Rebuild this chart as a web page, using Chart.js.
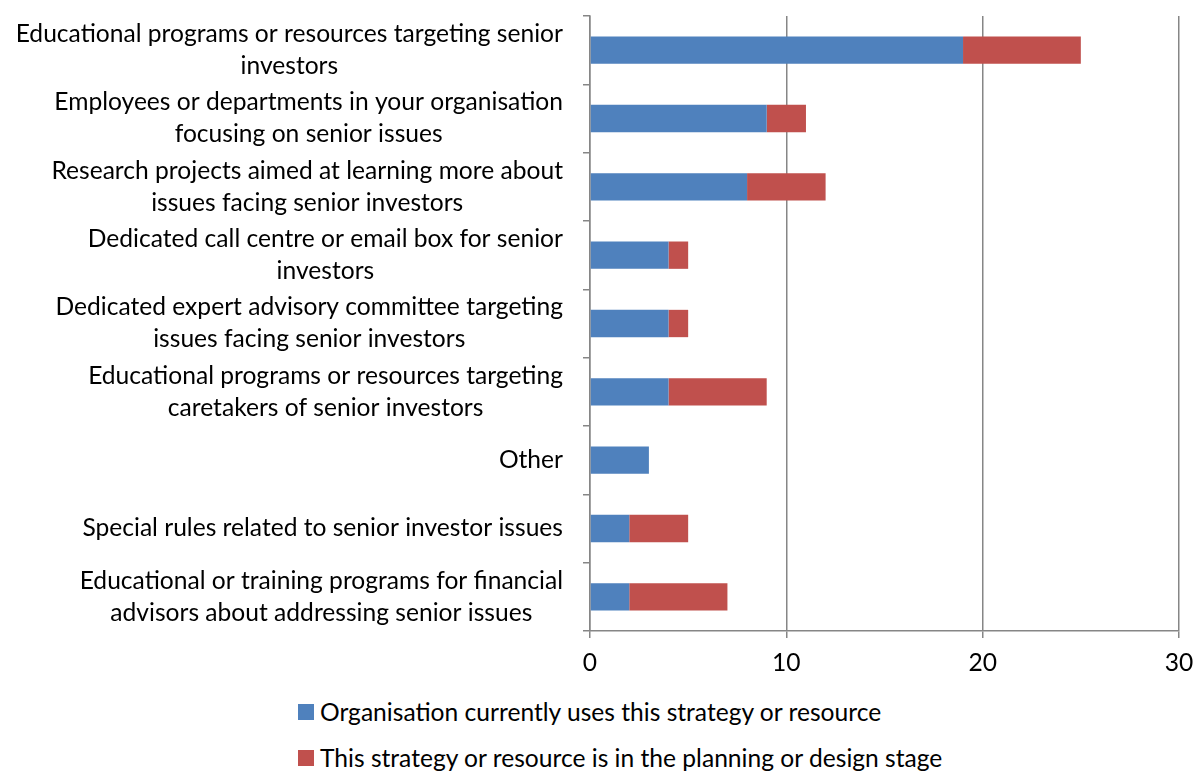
<!DOCTYPE html>
<html>
<head>
<meta charset="utf-8">
<script src="https://cdn.jsdelivr.net/npm/chart.js@4"></script>
<style>
  body { margin: 0; background: #fff; font-family: Lato, sans-serif; }
  #wrap { position: relative; width: 1195px; height: 772px; }
  #c { position: absolute; left: 0; top: 0; }
  .leg { position: absolute; left: 298px; font-size: 24.6px; color: #000; display: flex; align-items: center; white-space: nowrap; }
  .leg span.box { display: inline-block; width: 16px; height: 16px; margin-right: 6px; }
</style>
</head>
<body>
<div id="wrap">
  <canvas id="c" width="1195" height="690"></canvas>
  <div id="legend"></div>
</div>
<script>
let categories = [
    ["Educational programs or resources targeting senior", "investors"],
    ["Employees or departments in your organisation", "focusing on senior issues"],
    ["Research projects aimed at learning more about", "issues facing senior investors"],
    ["Dedicated call centre or email box for senior", "investors"],
    ["Dedicated expert advisory committee targeting", "issues facing senior investors"],
    ["Educational programs or resources targeting", "caretakers of senior investors"],
    "Other",
    "Special rules related to senior investor issues",
    ["Educational or training programs for financial", "advisors about addressing senior issues"]
];
let usesNow = [19, 9, 8, 4, 4, 4, 3, 2, 2];
let planning = [6, 2, 4, 1, 1, 5, 0, 3, 5];
let seriesNames = [
    "Organisation currently uses this strategy or resource",
    "This strategy or resource is in the planning or design stage"
];
let xTicks = [0, 10, 20, 30];

let font = { family: "Lato", size: 24.6 };
let gridColor = "#868686";
let lineGap = 32;

// category labels: block right-aligned to the axis, lines centred inside the block
let centredLabels = {
    id: 'centredLabels',
    afterDraw: function(chart) {
        let ctx = chart.ctx;
        let y = chart.scales.y;
        let right = y.right - 7 - 20;
        ctx.save();
        ctx.font = font.size + "px " + font.family;
        ctx.fillStyle = "#000";
        ctx.textAlign = "center";
        ctx.textBaseline = "middle";
        chart.data.labels.forEach(function(lab, i) {
            let lines = Array.isArray(lab) ? lab : [lab];
            let w = Math.max.apply(null, lines.map(l => ctx.measureText(l).width));
            let cx = right - w / 2;
            let cy = y.getPixelForTick(i);
            lines.forEach(function(l, j) {
                ctx.fillText(l, cx, cy + (j - (lines.length - 1) / 2) * lineGap);
            });
        });
        ctx.restore();
    }
};

let chart = new Chart(document.getElementById("c"), {
    type: 'bar',
    data: {
        labels: categories,
        datasets: [
            { label: seriesNames[0], data: usesNow, backgroundColor: "#4F81BD" },
            { label: seriesNames[1], data: planning, backgroundColor: "#C0504D" }
        ]
    },
    plugins: [centredLabels],
    options: {
        indexAxis: 'y',
        responsive: false,
        animation: false,
        layout: { padding: { top: 16, right: 16, left: 0, bottom: 0 } },
        datasets: { bar: { categoryPercentage: 1, barPercentage: 0.4 } },
        plugins: { legend: { display: false }, tooltip: { enabled: false } },
        scales: {
            x: {
                stacked: true,
                min: 0,
                max: 30,
                afterBuildTicks: function(scale) {
                    scale.ticks = xTicks.map(v => ({ value: v }));
                },
                afterFit: function(scale) {
                    scale.height = 59;
                    scale.paddingLeft = 0;
                    scale.paddingRight = 0;
                },
                grid: { color: gridColor, lineWidth: 1.5, tickLength: 7 },
                border: { color: gridColor, width: 1.5 },
                ticks: { font: font, color: "#000", padding: 10, maxRotation: 0 }
            },
            y: {
                stacked: true,
                afterFit: function(scale) {
                    scale.width = 590;
                    scale.paddingTop = 0;
                    scale.paddingBottom = 0;
                },
                grid: { drawOnChartArea: false, color: gridColor, lineWidth: 1.5, tickLength: 7 },
                border: { color: gridColor, width: 1.5 },
                ticks: { display: false, autoSkip: false }
            }
        }
    }
});

let legend = document.getElementById("legend");
chart.data.datasets.forEach(function(ds, i) {
    let d = document.createElement("div");
    d.className = "leg";
    d.style.top = (i === 0 ? 697 : 743) + "px";
    d.innerHTML = '<span class="box" style="background:' + ds.backgroundColor + '"></span>' + ds.label;
    legend.appendChild(d);
});
</script>
</body>
</html>
